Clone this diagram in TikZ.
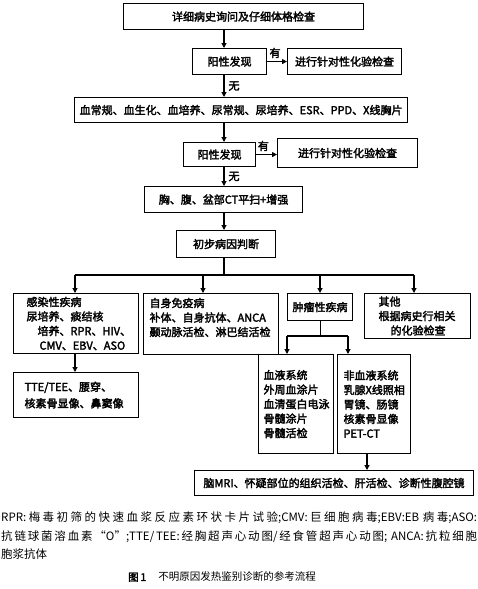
\documentclass[tikz,border=0pt]{standalone}
\usepackage{fontspec}
\setmainfont{Noto Sans CJK SC}
\newfontfamily\heavy{Noto Sans CJK SC}[FakeBold=2.5]
\usetikzlibrary{arrows.meta}
\newcommand\notefont{\fontsize{11.5}{14}\selectfont\XeTeXlinebreaklocale "zh"\XeTeXlinebreakskip=0pt plus 3pt\relax}
\begin{document}
\begin{tikzpicture}[x=1pt,y=-1pt,
  box/.style={draw,line width=1.1pt,inner sep=0pt,anchor=north west,font=\heavy\fontsize{11}{14.5}\selectfont},
  arr/.style={line width=1.1pt,-{Triangle[length=5pt,width=5pt]}},
  lab/.style={font=\heavy\fontsize{11}{13}\selectfont,inner sep=1pt},
  note/.style={anchor=west,text width=476pt,align=justify,inner sep=0pt,font=\notefont}]
\useasboundingbox (0,0) rectangle (478,589);
\node[box,minimum width=240pt,minimum height=26pt] (hist) at (123,3) {详细病史询问及仔细体格检查};
\node[box,minimum width=74pt,minimum height=26pt] (pos1) at (192,48) {阳性发现};
\node[box,minimum width=114pt,minimum height=26pt] (test1) at (287,48) {进行针对性化验检查};
\node[box,minimum width=333pt,minimum height=25pt] (routine) at (74,97) {血常规、血生化、血培养、尿常规、尿培养、ESR、PPD、X线胸片};
\node[box,minimum width=72pt,minimum height=24pt] (pos2) at (183,142) {阳性发现};
\node[box,minimum width=140pt,minimum height=29pt] (test2) at (277,138) {进行针对性化验检查};
\node[box,minimum width=158pt,minimum height=26pt] (ct) at (144,186) {胸、腹、盆部CT平扫+增强};
\node[box,minimum width=99pt,minimum height=27pt] (prelim) at (176,230) {初步病因判断};
\node[box,text width=125pt,minimum height=60pt,align=left] (infect) at (13,293)
  {\leftskip=13pt 感染性疾病\\尿培养、痰结核\\\hspace*{11pt}培养、RPR、HIV、\\\hspace*{13pt}CMV、EBV、ASO\par};
\node[box,text width=125pt,minimum height=45pt,align=left] (extra) at (13,372)
  {\leftskip=11pt TTE/TEE、腰穿、\\[2pt]核素骨显像、鼻窦像\par};
\node[box,text width=135pt,minimum height=61pt,text depth=43pt,align=left] (auto) at (143,293)
  {\leftskip=6pt 自身免疫病\\补体、自身抗体、ANCA\\颞动脉活检、淋巴结活检\par};
\node[box,minimum width=65pt,minimum height=27pt] (tumor) at (287,293) {肿瘤性疾病};
\node[box,text width=106pt,minimum height=45pt,align=left] (other) at (364,293)
  {\leftskip=14pt 其他\\根据病史行相关\\\hspace*{12pt}的化验检查\par};
\node[box,text width=75pt,minimum height=99pt,align=left] (blood) at (258,354)
  {\leftskip=5pt 血液系统\\外周血涂片\\血清蛋白电泳\\骨髓涂片\\骨髓活检\par};
\node[box,text width=73pt,minimum height=99pt,align=left] (nonblood) at (337,354)
  {\leftskip=6pt 非血液系统\\乳腺X线照相\\胃镜、肠镜\\核素骨显像\\PET-CT\par};
\node[box,minimum width=279pt,minimum height=25pt] (final) at (194,470) {脑MRI、怀疑部位的组织活检、肝活检、诊断性腹腔镜};
\coordinate (spine) at (224,0);
\draw[arr] (hist.south -| spine) -- (pos1.north -| spine);
\draw[arr] (pos1) -- node[lab,above,pos=0.4,yshift=2pt]{有} (test1);
\draw[arr] (pos1.south -| spine) -- node[lab,right,xshift=3pt]{无} (routine.north -| spine);
\draw[arr] (routine.south -| spine) -- (pos2.north -| spine);
\draw[arr] (pos2.east) -- node[lab,above,pos=0.35,yshift=2pt]{有} (pos2.east -| test2.west);
\draw[arr] (pos2.south -| spine) -- node[lab,right,xshift=3pt]{无} (ct.north -| spine);
\draw[arr] (ct.south -| spine) -- (prelim.north -| spine);
\coordinate (b1) at (75,275);
\coordinate (b2) at (203,275);
\coordinate (b3) at (320,275);
\coordinate (b4) at (414,275);
\draw[line width=1.1pt] (prelim.south -| spine) -- (b1 -| spine);
\draw[line width=1.1pt] (b1) -- (b4);
\foreach \b/\n in {b1/infect,b2/auto,b3/tumor,b4/other}
  \draw[arr] (\b) -- (\b |- \n.north);
\draw[arr] (infect.south -| b1) -- (extra.north -| b1);
\coordinate (t1) at (287,336);
\coordinate (t2) at (348,336);
\draw[line width=1.1pt] (tumor.south) -- (tumor.south |- t1);
\draw[line width=1.1pt] (t1) -- (t2);
\draw[arr] (t1) -- (t1 |- blood.north);
\draw[arr] (t2) -- (t2 |- nonblood.north);
\coordinate (f1) at (367,0);
\draw[arr] (nonblood.south -| f1) -- (final.north -| f1);
\node[note] (n1) at (1,518) {\parfillskip=0pt RPR:梅毒初筛的快速血浆反应素环状卡片试验;CMV:巨细胞病毒;EBV:EB 病毒;ASO:\par};
\node[note] (n2) at (1,537) {\parfillskip=0pt 抗链球菌溶血素“O”;TTE/TEE:经胸超声心动图/经食管超声心动图; ANCA:抗粒细胞\par};
\node[note] (n3) at (1,554) {胞浆抗体};
\node[font=\fontsize{10.5}{12}\selectfont] (title) at (222,577) {{\heavy 图\,1}\hspace{12pt}不明原因发热鉴别诊断的参考流程};
\end{tikzpicture}
\end{document}
